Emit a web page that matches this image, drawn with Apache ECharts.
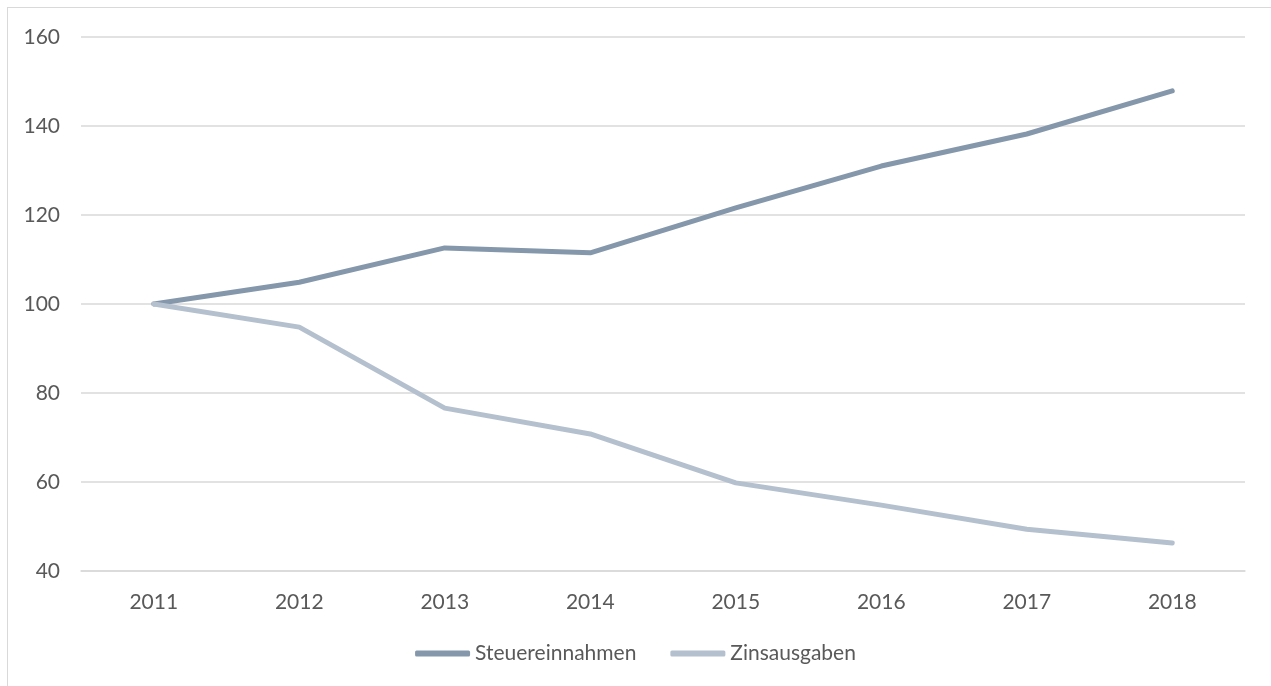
<!DOCTYPE html>
<html>
<head>
<meta charset="utf-8">
<script src="https://cdn.jsdelivr.net/npm/echarts@6/dist/echarts.min.js"></script>
<style>
    html, body { margin: 0; padding: 0; background: #fff; overflow: hidden; }
    #frame { position: absolute; left: 7px; top: 7px; width: 1300px; height: 720px; border: 1px solid #d9d9d9; }
    #chart { position: absolute; left: 0; top: 0; width: 1271px; height: 686px; }
</style>
</head>
<body>
<div id="frame"></div>
<div id="chart"></div>
<script>
// Index 2011 = 100
var years = ['2011', '2012', '2013', '2014', '2015', '2016', '2017', '2018'];
var steuereinnahmen = [100, 104.9, 112.6, 111.5, 121.6, 131.0, 138.2, 147.9];
var zinsausgaben = [100, 94.8, 76.6, 70.8, 59.8, 54.8, 49.4, 46.3];

var textColor = '#595959';
var font = 'Lato, "Open Sans", sans-serif';

var chart = echarts.init(document.getElementById('chart'));
var option = {
    animation: false,
    textStyle: { fontFamily: font },
    grid: { left: 81, right: 26, top: 37, bottom: 115 },
    legend: {
        bottom: 17,
        left: 'center',
        itemWidth: 55,
        itemHeight: 6,
        itemGap: 34,
        icon: 'roundRect',
        textStyle: { color: textColor, fontSize: 21, fontFamily: font },
        data: ['Steuereinnahmen', 'Zinsausgaben']
    },
    xAxis: {
        type: 'category',
        data: years,
        boundaryGap: true,
        axisLine: { show: true, lineStyle: { color: '#d9d9d9', width: 1.5 } },
        axisTick: { show: false },
        axisLabel: { color: textColor, fontSize: 21, margin: 21 }
    },
    yAxis: {
        type: 'value',
        min: 40,
        max: 160,
        interval: 20,
        axisLine: { show: false },
        axisTick: { show: false },
        axisLabel: { color: textColor, fontSize: 21, margin: 21 },
        splitLine: { lineStyle: { color: '#d9d9d9', width: 1.5 } }
    },
    series: [{
        name: 'Steuereinnahmen',
        type: 'line',
        data: steuereinnahmen,
        color: '#8497ab',
        symbol: 'none',
        lineStyle: { width: 5, cap: 'round', join: 'round' }
    }, {
        name: 'Zinsausgaben',
        type: 'line',
        data: zinsausgaben,
        color: '#b4c0ce',
        symbol: 'none',
        lineStyle: { width: 5, cap: 'round', join: 'round' }
    }]
};
chart.setOption(option);
</script>
</body>
</html>
